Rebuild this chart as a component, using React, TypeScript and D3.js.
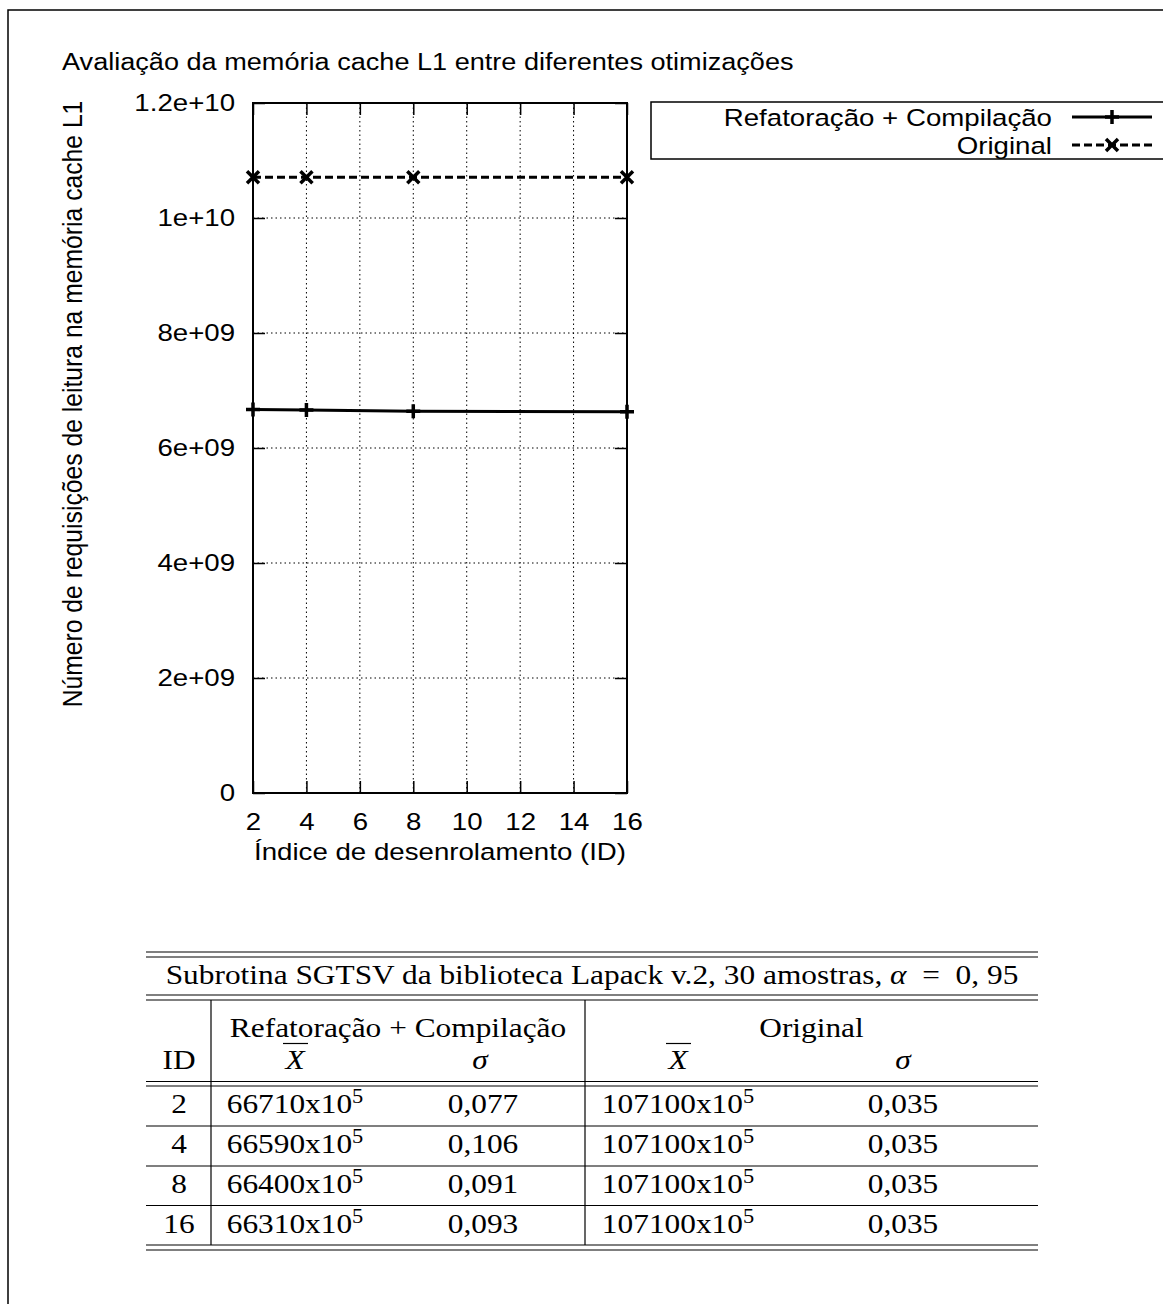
import React, { useEffect, useRef } from 'react';
import * as d3 from 'd3';

const chartTitle = 'Avaliação da memória cache L1 entre diferentes otimizações';
const xLabel = 'Índice de desenrolamento (ID)';
const yLabel = 'Número de requisições de leitura na memória cache L1';

const unrollIds = [2, 4, 8, 16];
const refactorValues = [6.671e9, 6.659e9, 6.64e9, 6.631e9];
const originalValues = [1.071e10, 1.071e10, 1.071e10, 1.071e10];
const seriesNames = ['Refatoração + Compilação', 'Original'];

const xTicks = [2, 4, 6, 8, 10, 12, 14, 16];
const yTicks = [0, 2e9, 4e9, 6e9, 8e9, 1e10, 1.2e10];
const yTickLabels = ['0', '2e+09', '4e+09', '6e+09', '8e+09', '1e+10', '1.2e+10'];

const tableTitle = 'Subrotina SGTSV da biblioteca Lapack v.2, 30 amostras, ';
const tableAlpha = '0, 95';
const refMeans = ['66710', '66590', '66400', '66310'];
const refSigmas = ['0,077', '0,106', '0,091', '0,093'];
const origMeans = ['107100', '107100', '107100', '107100'];
const origSigmas = ['0,035', '0,035', '0,035', '0,035'];

const sans = "'Liberation Sans', Arial, Helvetica, sans-serif";
const serif = "'Liberation Serif', 'Times New Roman', serif";

// the original figure is slightly stretched horizontally
const sx = 1.12;

const App = () => {
    const chartRef = useRef<SVGSVGElement>(null);

    useEffect(() => {
        if (chartRef.current) {
            drawChart();
        }
    }, []);

    const drawChart = () => {
        const svg = d3.select(chartRef.current);
        svg.selectAll('*').remove();

        // page frame (left and top edges only)
        svg.append('path')
            .attr('d', 'M8,1304V10H1163')
            .attr('fill', 'none')
            .attr('stroke', '#000')
            .attr('stroke-width', 1.5);

        const left = 253, right = 627, top = 103, bottom = 793;
        const x = d3.scaleLinear().domain([2, 16]).range([left, right]);
        const y = d3.scaleLinear().domain([0, 1.2e10]).range([bottom, top]);
        const fs = 24.7;

        const label = (g, px, py, str, anchor = 'start', family = sans, size = fs) =>
            g.append('text')
                .attr('transform', `translate(${px},${py}) scale(${sx},1)`)
                .attr('text-anchor', anchor)
                .attr('font-family', family)
                .attr('font-size', size)
                .text(str);

        label(svg, 62, 70, chartTitle, 'start', sans, 24.2);

        // dotted grid
        const grid = svg.append('g')
            .attr('stroke', '#000')
            .attr('stroke-width', 1)
            .attr('stroke-dasharray', '1.5,3');
        grid.selectAll('line.gx')
            .data(xTicks.slice(1, -1))
            .enter()
            .append('line')
            .attr('x1', d => x(d))
            .attr('x2', d => x(d))
            .attr('y1', top)
            .attr('y2', bottom);
        grid.selectAll('line.gy')
            .data(yTicks.slice(1, -1))
            .enter()
            .append('line')
            .attr('x1', left)
            .attr('x2', right)
            .attr('y1', d => y(d))
            .attr('y2', d => y(d));

        // axes with inward ticks
        const styleAxis = (g) => {
            g.select('.domain').remove();
            g.selectAll('line').attr('stroke', '#000').attr('stroke-width', 1.5);
            g.selectAll('text').attr('fill', '#000').attr('transform', `scale(${sx},1)`);
            g.attr('font-family', sans).attr('font-size', fs);
        };

        svg.append('g')
            .attr('transform', `translate(${left},0)`)
            .call(d3.axisLeft(y).tickValues(yTicks).tickSize(-12).tickPadding(16)
                .tickFormat((d, i) => yTickLabels[i]))
            .call(styleAxis);
        svg.append('g')
            .attr('transform', `translate(${right},0)`)
            .call(d3.axisRight(y).tickValues(yTicks).tickSize(-12).tickFormat(() => ''))
            .call(styleAxis);
        svg.append('g')
            .attr('transform', `translate(0,${bottom})`)
            .call(d3.axisBottom(x).tickValues(xTicks).tickSize(-12).tickPadding(19)
                .tickFormat(d => String(d)))
            .call(styleAxis);
        svg.append('g')
            .attr('transform', `translate(0,${top})`)
            .call(d3.axisTop(x).tickValues(xTicks).tickSize(-12).tickFormat(() => ''))
            .call(styleAxis);

        svg.append('rect')
            .attr('x', left)
            .attr('y', top)
            .attr('width', right - left)
            .attr('height', bottom - top)
            .attr('fill', 'none')
            .attr('stroke', '#000')
            .attr('stroke-width', 2);

        label(svg, (left + right) / 2, 860, xLabel, 'middle');

        svg.append('text')
            .attr('transform', `translate(82,404) scale(${sx},1) rotate(-90)`)
            .attr('text-anchor', 'middle')
            .attr('font-family', sans)
            .attr('font-size', fs)
            .text(yLabel);

        // series
        const line = d3.line<number>()
            .x((d, i) => x(unrollIds[i]))
            .y(d => y(d));
        const plusPath = 'M-7,0H7M0,-7V7';
        const crossPath = 'M-6,-6L6,6M-6,6L6,-6';

        svg.append('path')
            .datum(originalValues)
            .attr('d', line)
            .attr('fill', 'none')
            .attr('stroke', '#000')
            .attr('stroke-width', 3)
            .attr('stroke-dasharray', '8,4');
        svg.append('path')
            .datum(refactorValues)
            .attr('d', line)
            .attr('fill', 'none')
            .attr('stroke', '#000')
            .attr('stroke-width', 3);

        svg.selectAll('path.mo')
            .data(originalValues)
            .enter()
            .append('path')
            .attr('class', 'mo')
            .attr('transform', (d, i) => `translate(${x(unrollIds[i])},${y(d)})`)
            .attr('d', crossPath)
            .attr('stroke', '#000')
            .attr('stroke-width', 3.5);
        svg.selectAll('path.mr')
            .data(refactorValues)
            .enter()
            .append('path')
            .attr('class', 'mr')
            .attr('transform', (d, i) => `translate(${x(unrollIds[i])},${y(d)})`)
            .attr('d', plusPath)
            .attr('stroke', '#000')
            .attr('stroke-width', 3.5);

        // legend
        svg.append('rect')
            .attr('x', 651)
            .attr('y', 102)
            .attr('width', 600)
            .attr('height', 57)
            .attr('fill', 'none')
            .attr('stroke', '#000')
            .attr('stroke-width', 1.5);
        const legendRows = [
            { name: seriesNames[0], dash: null, marker: plusPath, y: 117 },
            { name: seriesNames[1], dash: '8,4', marker: crossPath, y: 145 },
        ];
        legendRows.forEach(r => {
            label(svg, 1052, r.y + 9, r.name, 'end');
            svg.append('line')
                .attr('x1', 1072)
                .attr('x2', 1152)
                .attr('y1', r.y)
                .attr('y2', r.y)
                .attr('stroke', '#000')
                .attr('stroke-width', 3)
                .attr('stroke-dasharray', r.dash);
            svg.append('path')
                .attr('transform', `translate(1112,${r.y})`)
                .attr('d', r.marker)
                .attr('stroke', '#000')
                .attr('stroke-width', 3.5);
        });

        // table
        const tf = 28;
        const tl = 146, tr = 1038;
        const tb = svg.append('g');
        const hLines = [952, 957, 995, 1000, 1081.5, 1086, 1126, 1166, 1205.5, 1245, 1250];
        tb.selectAll('line.h')
            .data(hLines)
            .enter()
            .append('line')
            .attr('x1', tl)
            .attr('x2', tr)
            .attr('y1', d => d)
            .attr('y2', d => d)
            .attr('stroke', '#000')
            .attr('stroke-width', 1.2);
        tb.selectAll('line.v')
            .data([211, 585])
            .enter()
            .append('line')
            .attr('x1', d => d)
            .attr('x2', d => d)
            .attr('y1', 1000)
            .attr('y2', 1245)
            .attr('stroke', '#000')
            .attr('stroke-width', 1.2);

        const tt = label(tb, (tl + tr) / 2, 984, '', 'middle', serif, tf);
        tt.append('tspan').text(tableTitle);
        tt.append('tspan').attr('font-style', 'italic').text('α');
        tt.append('tspan').text('\u2002=\u2002' + tableAlpha);

        const cell = (cx, by, str, italic = false) =>
            label(tb, cx, by, str, 'middle', serif, tf)
                .attr('font-style', italic ? 'italic' : 'normal');

        cell(398, 1037, seriesNames[0]);
        cell(811.5, 1037, seriesNames[1]);
        cell(179, 1069, 'ID');
        [295, 678].forEach(cx => {
            cell(cx, 1069, 'X', true);
            tb.append('line')
                .attr('x1', cx - 12)
                .attr('x2', cx + 13)
                .attr('y1', 1043.5)
                .attr('y2', 1043.5)
                .attr('stroke', '#000')
                .attr('stroke-width', 1.2);
        });
        cell(480, 1069, 'σ', true);
        cell(903, 1069, 'σ', true);

        const rowBase = [1113, 1153, 1193, 1233];
        const meanCell = (cx, by, m) => {
            const t = label(tb, cx, by, '', 'middle', serif, tf);
            t.append('tspan').text(m + 'x10');
            t.append('tspan').attr('dy', -10).attr('font-size', 20).text('5');
        };
        unrollIds.forEach((id, i) => {
            cell(179, rowBase[i], String(id));
            meanCell(295, rowBase[i], refMeans[i]);
            cell(483, rowBase[i], refSigmas[i]);
            meanCell(678, rowBase[i], origMeans[i]);
            cell(903, rowBase[i], origSigmas[i]);
        });
    };

    return (
        <svg
            ref={chartRef}
            width="1163"
            height="1304"
            style={{ position: 'absolute', left: 0, top: 0, background: '#fff' }}
        />
    );
};

export default App;
